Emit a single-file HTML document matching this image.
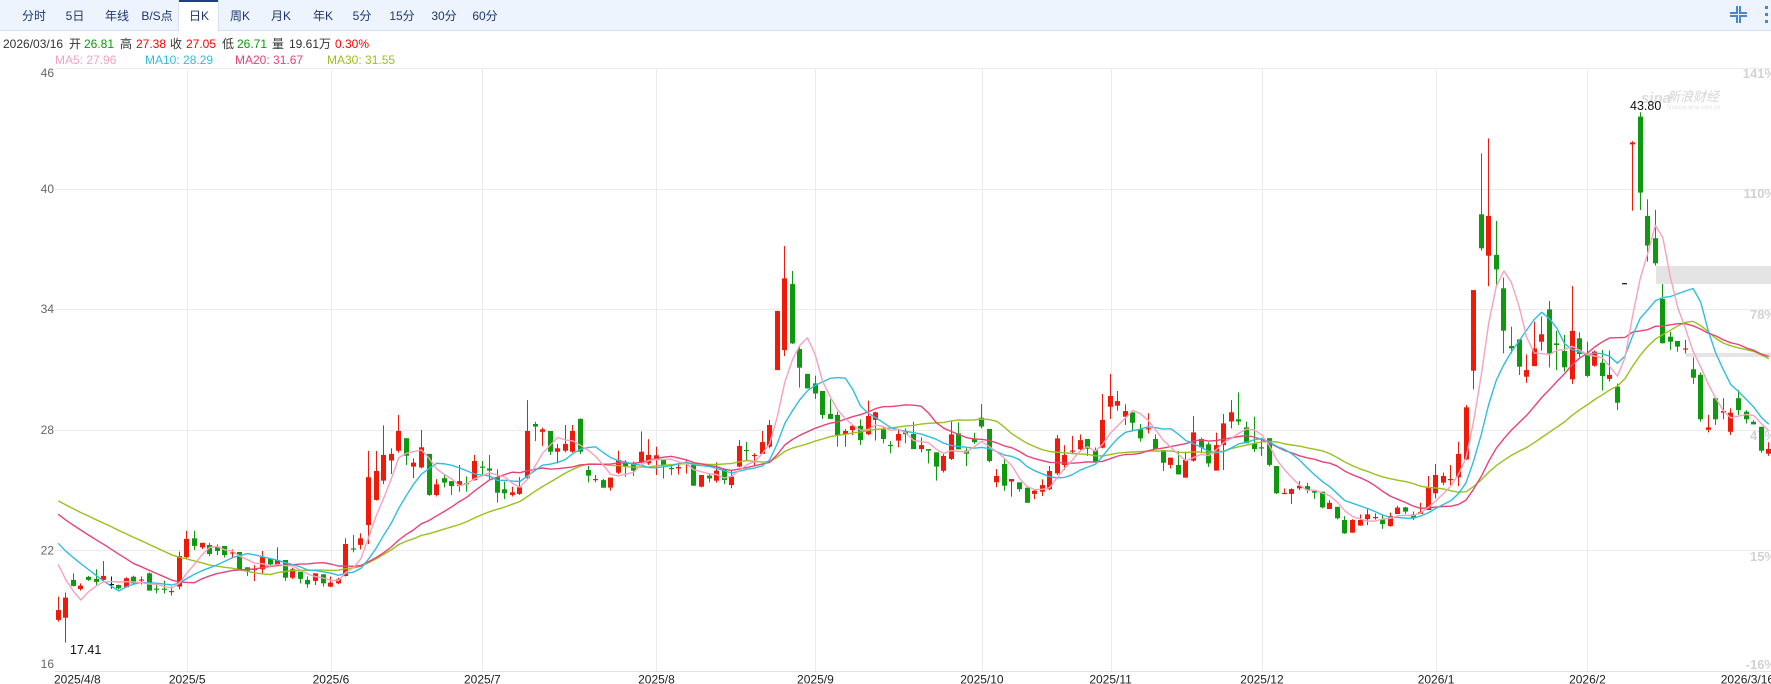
<!DOCTYPE html>
<html><head><meta charset="utf-8">
<style>
html,body{margin:0;padding:0;background:#fff;}
body{width:1771px;height:684px;overflow:hidden;position:relative;}
svg{position:absolute;left:0;top:0;display:block;}
text{font-family:"Liberation Sans","Noto Sans CJK SC",sans-serif;}
</style></head>
<body>
<svg id="c" width="1771" height="684" viewBox="0 0 1771 684" xmlns="http://www.w3.org/2000/svg">
<!-- toolbar -->
<rect x="0" y="0" width="1771" height="30" fill="#eef4fd"/>
<line x1="0" y1="30.5" x2="1771" y2="30.5" stroke="#d5e1f2" stroke-width="1"/>
<rect x="179" y="0" width="39" height="31" fill="#ffffff"/>
<line x1="179" y1="1" x2="218" y2="1" stroke="#1f3f86" stroke-width="2"/>
<line x1="178.5" y1="0" x2="178.5" y2="30" stroke="#d5e1f2"/>
<line x1="218.5" y1="0" x2="218.5" y2="30" stroke="#d5e1f2"/>
<g font-size="12" fill="#1b3673" text-anchor="middle">
<text x="34" y="20">分时</text>
<text x="75" y="20">5日</text>
<text x="117" y="20">年线</text>
<text x="157" y="20">B/S点</text>
<text x="199" y="20">日K</text>
<text x="240" y="20">周K</text>
<text x="281" y="20">月K</text>
<text x="323" y="20">年K</text>
<text x="362" y="20">5分</text>
<text x="402" y="20">15分</text>
<text x="444" y="20">30分</text>
<text x="485" y="20">60分</text>
</g>
<g stroke="#4a84d4" stroke-width="2" fill="none">
<path d="M1730,13 H1737 V6"/>
<path d="M1747,13 H1740 V6"/>
<path d="M1730,16 H1737 V23"/>
<path d="M1747,16 H1740 V23"/>
</g>
<g fill="#4a84d4">
<rect x="1765" y="6" width="3" height="3"/>
<rect x="1765" y="13" width="3" height="3"/>
<rect x="1765" y="20" width="3" height="3"/>
</g>
<!-- info line -->
<g font-size="12">
<text x="3" y="48" fill="#333">2026/03/16</text>
<text x="69" y="48" fill="#333">开</text>
<text x="84" y="48" fill="#0a990a">26.81</text>
<text x="120" y="48" fill="#333">高</text>
<text x="136" y="48" fill="#f00">27.38</text>
<text x="170" y="48" fill="#333">收</text>
<text x="186" y="48" fill="#f00">27.05</text>
<text x="222" y="48" fill="#333">低</text>
<text x="237" y="48" fill="#0a990a">26.71</text>
<text x="272" y="48" fill="#333">量</text>
<text x="289" y="48" fill="#333">19.61万</text>
<text x="335" y="48" fill="#f00">0.30%</text>
<text x="55" y="64" fill="#f6a2bf">MA5: 27.96</text>
<text x="145" y="64" fill="#30bde0">MA10: 28.29</text>
<text x="235" y="64" fill="#e94277">MA20: 31.67</text>
<text x="327" y="64" fill="#98c21f">MA30: 31.55</text>
</g>
<g id="grid"></g>
<g id="ov"></g>
<g id="labels"></g>
<g id="cdl"></g>
<g id="ma"></g>
<g id="top"></g>
</svg>
<script>
(function(){
var D=[
[18.54,19.7,18.45,19.03],[18.65,19.9,17.41,19.65],[20.53,20.86,20.2,20.23],[20.08,20.36,20.0,20.25],[20.68,20.73,20.48,20.53],
[20.58,21.06,20.28,20.43],[20.53,21.47,20.44,20.73],[20.33,20.7,20.1,20.33],[20.28,20.3,20.06,20.11],[20.16,20.66,20.16,20.61],
[20.69,20.74,20.3,20.36],[20.5,20.7,20.3,20.55],[20.86,20.9,20.0,20.0],[20.1,20.3,19.86,20.05],[20.1,20.5,19.86,20.06],
[19.95,20.2,19.75,19.98],[20.2,21.94,20.06,21.72],[21.66,22.97,21.56,22.57],[22.6,22.97,22.02,22.22],[22.15,22.38,22.07,22.38],
[22.27,22.38,21.72,21.82],[22.19,22.3,21.77,21.97],[22.22,22.22,21.65,21.77],[21.87,22.05,21.6,21.9],[21.92,21.92,21.03,21.06],
[21.16,21.16,20.73,20.99],[21.05,21.27,20.48,21.08],[21.06,21.97,20.81,21.66],[21.6,21.6,21.16,21.3],[21.3,22.15,21.3,21.52],
[21.52,21.52,20.48,20.64],[20.64,21.14,20.58,21.06],[20.94,20.94,20.36,20.58],[20.53,20.7,20.14,20.31],[20.48,20.86,20.28,20.86],
[20.81,20.81,20.2,20.36],[20.2,20.7,20.17,20.4],[20.36,20.64,20.31,20.56],[20.73,22.6,20.7,22.32],[22.1,22.77,21.9,22.05],
[22.27,22.85,22.05,22.6],[23.26,26.95,22.32,25.64],[24.51,26.95,24.48,25.95],[25.47,28.22,25.3,26.75],[26.47,27.08,25.8,26.8],
[26.96,28.74,26.86,27.94],[27.58,27.58,26.25,26.71],[26.17,26.58,25.6,26.37],[26.13,27.99,26.08,27.13],[26.8,26.8,24.71,24.76],
[24.76,25.54,24.68,25.29],[25.59,25.75,25.14,25.37],[25.45,25.45,24.76,25.2],[25.2,26.25,24.92,25.45],[25.35,25.68,24.92,25.33],
[25.5,26.75,25.47,26.45],[26.17,26.45,25.75,26.13],[26.08,26.75,25.54,25.97],[25.64,26.03,24.38,24.87],[25.04,25.42,24.56,24.84],
[24.76,25.17,24.68,24.89],[24.81,25.64,24.76,25.14],[25.59,29.48,25.54,27.94],[28.29,28.4,27.44,28.16],[27.9,28.11,27.2,28.02],
[27.94,27.94,26.75,26.91],[26.91,27.3,26.33,27.08],[26.96,28.24,26.88,27.3],[26.91,28.24,26.86,27.94],[28.54,28.57,26.8,26.91],
[26.0,26.2,25.39,25.72],[25.5,25.75,25.39,25.55],[25.5,25.55,25.12,25.12],[25.12,25.62,24.97,25.62],[25.87,26.96,25.8,26.5],
[26.33,26.5,25.67,26.2],[26.33,26.42,25.7,25.97],[26.37,27.92,26.33,26.91],[26.33,27.53,26.25,26.75],[26.5,27.16,25.75,26.73],
[26.5,26.5,25.58,26.25],[26.1,26.3,25.75,26.08],[26.08,26.3,25.78,26.15],[26.33,26.5,25.83,26.35],[26.25,26.33,25.22,25.22],
[25.17,25.75,25.14,25.75],[25.72,25.78,25.38,25.58],[25.47,26.38,25.37,25.97],[26.03,26.08,25.3,25.5],[25.25,25.99,25.09,25.67],
[26.17,27.5,26.14,27.2],[27.0,27.4,26.5,26.98],[26.7,26.83,26.25,26.75],[26.8,27.94,26.8,27.39],[27.16,28.49,27.08,28.24],
[30.97,33.93,30.97,33.91],[31.97,37.14,31.67,35.53],[35.25,35.9,32.27,32.3],[32.02,32.14,30.1,31.09],[30.78,30.78,30.06,30.06],
[30.31,30.69,29.53,29.81],[29.93,29.93,28.54,28.74],[28.79,29.52,28.54,28.54],[28.74,28.9,27.16,27.74],[27.79,28.04,27.16,27.94],
[27.99,28.24,27.74,28.2],[28.19,28.52,27.24,27.49],[27.78,29.45,27.74,28.69],[28.49,28.9,27.46,28.87],[28.02,28.19,27.33,27.54],
[27.25,27.44,26.83,27.23],[27.46,27.99,27.13,27.79],[27.94,28.07,27.33,27.77],[27.79,28.4,27.04,27.04],[27.04,27.62,26.88,27.24],
[27.04,27.04,26.33,26.96],[26.88,26.88,25.47,26.17],[25.96,26.8,25.87,26.7],[26.55,28.45,26.5,27.77],[27.82,28.37,27.03,27.03],
[26.96,27.08,26.2,26.81],[27.57,27.85,27.3,27.38],[28.6,29.28,28.07,28.16],[28.04,28.04,26.38,26.45],[25.39,26.05,25.14,25.7],
[26.3,26.53,24.97,25.22],[25.42,25.55,24.67,25.55],[25.39,25.39,24.92,25.05],[25.12,25.12,24.37,24.37],[24.81,25.0,24.55,24.97],
[24.92,25.53,24.7,25.25],[25.04,26.2,25.0,25.95],[25.83,27.74,25.75,27.57],[26.25,27.24,26.0,26.75],[26.95,27.69,26.8,26.97],
[27.03,27.77,26.91,27.49],[27.54,27.54,26.7,27.05],[26.99,27.12,26.41,26.41],[27.11,29.78,27.08,28.49],[29.15,30.78,28.54,29.68],
[29.2,29.93,28.95,29.43],[28.65,29.27,28.24,28.93],[28.87,28.87,27.91,28.35],[28.04,28.29,27.41,27.57],[28.06,28.82,27.82,28.08],
[27.54,27.77,27.04,27.04],[26.99,26.99,25.95,26.36],[26.25,26.61,26.08,26.61],[26.25,26.95,25.78,25.78],[25.62,26.91,25.62,26.5],
[26.46,28.68,26.41,27.87],[27.54,27.61,26.83,27.11],[27.28,27.38,26.16,26.33],[25.97,27.86,25.97,27.24],[27.24,28.79,26.0,28.32],
[28.41,29.48,28.07,28.87],[28.52,29.86,28.24,28.41],[28.12,28.41,27.33,27.33],[27.33,28.65,26.91,27.04],[27.13,27.6,26.7,27.1],
[27.58,27.58,26.17,26.25],[26.2,26.2,24.81,24.84],[24.8,25.08,24.8,24.86],[24.81,25.09,24.31,25.05],[25.09,25.45,25.0,25.22],
[25.2,25.36,24.85,25.0],[24.95,24.95,24.56,24.87],[24.92,24.92,24.09,24.14],[24.06,24.5,24.06,24.37],[24.17,24.17,23.55,23.6],
[23.51,23.7,22.82,22.85],[22.88,23.55,22.88,23.51],[23.23,23.79,23.23,23.51],[23.55,24.06,23.26,23.79],[23.63,23.84,23.53,23.66],
[23.55,23.79,23.07,23.31],[23.21,23.88,23.18,23.71],[23.81,24.22,23.81,24.13],[24.14,24.17,23.81,23.93],[23.79,23.93,23.51,23.6],
[23.81,24.37,23.81,23.9],[24.01,25.7,24.01,25.14],[24.84,26.3,24.59,25.75],[25.37,25.87,25.25,25.7],[25.53,26.25,25.25,25.55],
[25.64,27.41,25.2,26.8],[26.53,29.23,26.5,29.12],[30.94,34.95,30.01,34.95],[38.72,41.75,36.91,37.03],[36.66,42.5,35.15,38.64],
[36.7,38.39,35.17,35.98],[35.04,35.57,31.8,32.93],[32.17,33.13,31.8,32.05],[32.5,32.5,30.73,31.14],[30.64,31.75,30.34,30.97],
[31.17,33.38,31.17,32.05],[32.38,33.63,31.94,32.75],[33.99,34.41,31.1,31.8],[32.3,32.93,30.97,32.22],[31.92,32.72,30.89,31.11],
[30.51,35.15,30.28,32.92],[32.55,32.85,31.6,31.77],[31.72,32.38,30.62,30.68],[31.19,31.94,31.14,31.89],[31.34,31.97,29.95,30.68],
[30.53,31.94,30.4,30.73],[30.15,30.31,28.98,29.35],[35.3,35.3,35.3,35.3],[42.2,42.36,38.9,42.3],[43.58,43.8,38.93,39.8],
[38.64,39.47,36.37,37.16],[37.53,38.94,36.17,36.28],[34.51,35.25,32.3,32.3],[32.63,32.88,31.97,32.38],[32.42,32.42,31.89,32.14],
[32.02,32.47,31.8,32.05],[31.01,31.6,30.28,30.59],[30.73,30.85,28.4,28.52],[28.0,28.74,27.87,28.12],[29.57,29.57,28.24,28.52],
[28.85,29.57,28.52,28.94],[27.9,29.07,27.74,28.85],[29.57,29.98,28.74,28.98],[28.9,28.98,28.32,28.52],[28.4,28.48,28.27,28.27],
[28.15,28.15,26.86,26.96],[26.81,27.38,26.71,27.05]
];
var pre=[25.6,25.9,26.0,25.7,25.9,25.8,25.6,25.9,25.7,25.7,
25.5,25.3,25.2,25.4,25.1,25.3,25.2,25.1,25.2,25.2,
23.6,23.4,23.3,23.4,23.3,
23.5,23.0,22.5,18.5];
function X(i){return 57.7+i*7.569;}
function Y(p){return 68+(46-p)*20.1;}
function f(v){return Math.round(v*10)/10;}
var L=55,R=1771,T=68,B=671;
// grid
var g='';
[46,40,34,28,22].forEach(function(p){var y=Math.round(Y(p))+0.5;g+='<line x1="'+L+'" y1="'+y+'" x2="'+R+'" y2="'+y+'" stroke="#ebebeb" stroke-width="1"/>';});
var months=[[17,'2025/5'],[36,'2025/6'],[56,'2025/7'],[79,'2025/8'],[100,'2025/9'],[122,'2025/10'],[139,'2025/11'],[159,'2025/12'],[182,'2026/1'],[202,'2026/2']];
months.forEach(function(m){var x=Math.round(X(m[0])+0.8)+0.5;g+='<line x1="'+x+'" y1="'+T+'" x2="'+x+'" y2="'+B+'" stroke="#ebebeb" stroke-width="1"/>';});
g+='<line x1="'+L+'" y1="671.5" x2="'+R+'" y2="671.5" stroke="#e2e2e2" stroke-width="1"/>';
document.getElementById('grid').innerHTML=g;
// overlays
document.getElementById('ov').innerHTML='<rect x="1656" y="266" width="115" height="18" fill="#e4e4e4"/><rect x="1686" y="353" width="85" height="4" fill="#e4e4e4"/>';
// labels
var t='';
var ly=[[46,77],[40,193],[34,313],[28,434],[22,554.5],[16,668]];
ly.forEach(function(a){t+='<text x="54" y="'+a[1]+'" font-size="12" fill="#666" text-anchor="end">'+a[0]+'</text>';});
var ry=[['141%',78],['110%',198],['78%',319],['47%',440],['15%',561],['-16%',669]];
ry.forEach(function(a){t+='<text x="1776" y="'+a[1]+'" font-size="13" font-weight="bold" fill="#d2d2d2" text-anchor="end">'+a[0]+'</text>';});
t+='<text x="54" y="683.5" font-size="12" fill="#222">2025/4/8</text>';
months.forEach(function(m){t+='<text x="'+(X(m[0])+0.8)+'" y="683.5" font-size="12" fill="#222" text-anchor="middle">'+m[1]+'</text>';});
t+='<text x="1720.7" y="683.5" font-size="12" fill="#222">2026/3/16</text>';
// watermark
t+='<text x="1641" y="103" font-size="15" font-style="italic" font-weight="bold" fill="#dcdcdc">sina</text>';
t+='<text x="1667" y="101" font-size="13" font-style="italic" fill="#d4d4d4">新浪财经</text>';
t+='<text x="1667" y="109" font-size="6" fill="#e2e2e2">finance.sina.com.cn</text>';
document.getElementById('labels').innerHTML=t;
// candles
var s='';
D.forEach(function(d,i){
  var o=d[0],h=d[1],l=d[2],c=d[3];
  var cx=Math.round(X(i));
  var col=c>o?'#f01a0a':(c<o?'#0e990e':'#111');
  s+='<rect x="'+cx+'" y="'+f(Y(h))+'" width="1" height="'+Math.max(1,f(Y(l)-Y(h)))+'" fill="'+col+'"/>';
  var tp=Y(Math.max(o,c)),bt=Y(Math.min(o,c));
  var hh=bt-tp; if(hh<1.2)hh=1.2;
  s+='<rect x="'+(cx-2)+'" y="'+f(tp)+'" width="5" height="'+f(hh)+'" fill="'+col+'"/>';
});
document.getElementById('cdl').innerHTML=s;
// MAs
var cl=pre.concat(D.map(function(d){return d[3];}));
var np=pre.length;
var cfg=[[30,'#98c21f'],[20,'#e94277'],[10,'#30bde0'],[5,'#f6a2bf']];
var m='';
cfg.forEach(function(cc){
  var n=cc[0],pts=[];
  for(var i=0;i<D.length;i++){
    var idx=i+np,sum=0;
    for(var k=idx-n+1;k<=idx;k++)sum+=cl[k];
    pts.push(f(X(i)+0.5)+','+f(Y(sum/n)));
  }
  m+='<polyline points="'+pts.join(' ')+'" fill="none" stroke="'+cc[1]+'" stroke-width="1.4" stroke-linejoin="round"/>';
});
document.getElementById('ma').innerHTML=m;
// top labels
var tt='';
tt+='<text x="1630" y="110" font-size="12.5" fill="#111">43.80</text>';
tt+='<text x="70" y="654" font-size="12.5" fill="#111">17.41</text>';
document.getElementById('top').innerHTML=tt;
})();
</script>
</body></html>
